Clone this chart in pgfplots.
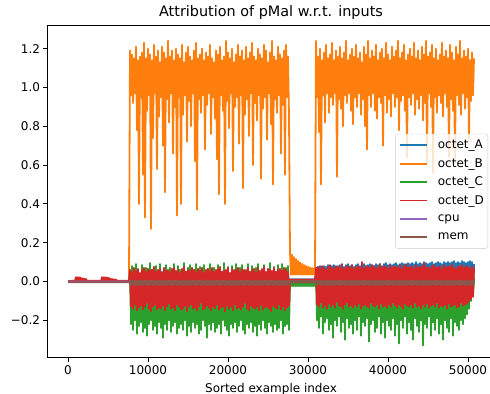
\documentclass[border=0pt]{standalone}
\usepackage{fontspec}
\setmainfont{DejaVu Sans}
\usepackage{pgfplots}
\usepackage{pgfplotstable}
\pgfplotsset{compat=1.18}

\definecolor{tabblue}{HTML}{1F77B4}
\definecolor{taborange}{HTML}{FF7F0E}
\definecolor{tabgreen}{HTML}{2CA02C}
\definecolor{tabred}{HTML}{D62728}
\definecolor{tabpurple}{HTML}{9467BD}
\definecolor{tabbrown}{HTML}{8C564B}

% Attribution per sorted example: octet_A, octet_B, octet_C, octet_D, mem
\pgfplotstableread{
x A B C D M
0 0 0 0 0.002 -0.004
875 0 0 0 0.004 -0.004
1000 0 0 0 0.022 -0.004
1125 0 0 0 0.0 -0.004
1250 0 0 0 0.022 -0.004
1375 0 0 0 0.0 -0.004
1500 0 0 0 0.021 -0.004
1625 0 0 0 0.0 -0.004
1750 0 0 0 0.017 -0.004
1875 0 0 0 0.0 -0.004
2000 0 0 0 0.015 -0.004
2125 0 0 0 0.0 -0.004
2250 0 0 0 0.013 -0.004
2375 0 0 0 0.0 -0.004
2450 0 0 0 0.004 -0.004
4150 0 0 0 0.004 -0.004
4250 0 0 0 0.022 -0.004
4375 0 0 0 0.0 -0.004
4500 0 0 0 0.022 -0.004
4625 0 0 0 0.0 -0.004
4750 0 0 0 0.021 -0.004
4875 0 0 0 0.0 -0.004
5000 0 0 0 0.02 -0.004
5125 0 0 0 0.0 -0.004
5250 0 0 0 0.016 -0.004
5375 0 0 0 0.0 -0.004
5500 0 0 0 0.013 -0.004
5625 0 0 0 0.0 -0.004
5750 0 0 0 0.011 -0.004
5875 0 0 0 0.0 -0.004
6000 0 0 0 0.01 -0.004
6125 0 0 0 0.0 -0.004
6200 0 0 0 0.003 -0.004
7625 0 0 0 0.003 -0.004
7750 0.04 1.19 0.05 0.06 0.005
7875 -0.08 0.96 -0.22 -0.13 -0.018
8000 0.05 1.17 0.08 0.05 0.002
8125 -0.06 0.92 -0.25 -0.14 -0.015
8250 0.03 1.15 0.04 0.07 0.006
8375 -0.09 0.97 -0.2 -0.12 -0.02
8500 0.04 1.21 0.09 0.055 0.003
8625 -0.08 0.78 -0.27 -0.15 -0.018
8750 0.05 1.14 0.06 0.065 0.005
8875 -0.06 0.40 -0.23 -0.135 -0.015
9000 0.03 1.16 0.03 0.045 0.002
9125 -0.09 0.95 -0.21 -0.125 -0.02
9250 0.04 1.18 0.085 0.06 0.006
9375 -0.08 0.55 -0.26 -0.145 -0.018
9500 0.05 1.23 0.05 0.07 0.003
9625 -0.06 0.33 -0.24 -0.13 -0.015
9750 0.03 1.15 0.07 0.05 0.005
9875 -0.09 0.88 -0.28 -0.11 -0.02
10000 0.04 1.20 0.04 0.065 0.002
10125 -0.08 0.96 -0.22 -0.14 -0.018
10250 0.05 1.17 0.095 0.055 0.006
10375 -0.06 0.27 -0.2 -0.155 -0.015
10500 0.03 1.14 0.06 0.06 0.003
10625 -0.09 0.74 -0.25 -0.13 -0.02
10750 0.04 1.22 0.035 0.075 0.005
10875 -0.08 0.97 -0.23 -0.12 -0.018
11000 0.05 1.16 0.08 0.05 0.002
11125 -0.06 0.58 -0.27 -0.145 -0.015
11250 0.03 1.19 0.05 0.06 0.006
11375 -0.09 0.85 -0.21 -0.135 -0.02
11500 0.04 1.13 0.09 0.065 0.003
11625 -0.08 0.95 -0.24 -0.14 -0.018
11750 0.05 1.21 0.04 0.045 0.005
11875 -0.06 0.70 -0.29 -0.125 -0.015
12000 0.03 1.18 0.065 0.07 0.002
12125 -0.09 0.46 -0.22 -0.15 -0.02
12250 0.04 1.15 0.085 0.055 0.006
12375 -0.08 0.94 -0.25 -0.13 -0.018
12500 0.05 1.24 0.03 0.06 0.003
12625 -0.06 0.82 -0.2 -0.115 -0.015
12750 0.03 1.16 0.07 0.05 0.005
12875 -0.09 0.97 -0.26 -0.14 -0.02
13000 0.04 1.19 0.05 0.065 0.002
13125 -0.08 0.66 -0.23 -0.135 -0.018
13250 0.05 1.14 0.09 0.07 0.006
13375 -0.06 0.90 -0.21 -0.15 -0.015
13500 0.03 1.20 0.04 0.055 0.003
13625 -0.09 0.34 -0.27 -0.12 -0.02
13750 0.04 1.17 0.08 0.06 0.005
13875 -0.08 0.95 -0.24 -0.13 -0.018
14000 0.05 1.15 0.06 0.045 0.002
14125 -0.06 0.40 -0.22 -0.145 -0.015
14250 0.03 1.22 0.035 0.065 0.006
14375 -0.09 0.86 -0.25 -0.14 -0.02
14500 0.04 1.13 0.095 0.075 0.003
14625 -0.08 0.96 -0.2 -0.125 -0.018
14750 0.05 1.18 0.05 0.05 0.005
14875 -0.06 0.72 -0.28 -0.155 -0.015
15000 0.03 1.21 0.07 0.06 0.002
15125 -0.09 0.93 -0.23 -0.13 -0.02
15250 0.04 1.16 0.085 0.055 0.006
15375 -0.08 0.80 -0.26 -0.12 -0.018
15500 0.05 1.14 0.04 0.07 0.003
15625 -0.06 0.97 -0.21 -0.14 -0.015
15750 0.03 1.19 0.06 0.06 0.005
15875 -0.09 0.62 -0.24 -0.135 -0.02
16000 0.04 1.23 0.09 0.05 0.002
16125 -0.08 0.37 -0.22 -0.15 -0.018
16250 0.05 1.15 0.03 0.065 0.006
16375 -0.06 0.94 -0.27 -0.13 -0.015
16500 0.03 1.17 0.075 0.055 0.003
16625 -0.09 0.87 -0.25 -0.11 -0.02
16750 0.04 1.20 0.05 0.07 0.005
16875 -0.08 0.96 -0.2 -0.145 -0.018
17000 0.05 1.14 0.085 0.045 0.002
17125 -0.06 0.68 -0.23 -0.14 -0.015
17250 0.03 1.18 0.04 0.06 0.006
17375 -0.09 0.91 -0.29 -0.125 -0.02
17500 0.04 1.16 0.065 0.065 0.003
17625 -0.08 0.97 -0.22 -0.135 -0.018
17750 0.05 1.22 0.09 0.055 0.005
17875 -0.06 0.76 -0.25 -0.15 -0.015
18000 0.03 1.15 0.05 0.07 0.002
18125 -0.09 0.95 -0.21 -0.13 -0.02
18250 0.04 1.13 0.07 0.05 0.006
18375 -0.08 0.84 -0.26 -0.14 -0.018
18500 0.05 1.19 0.035 0.06 0.003
18625 -0.06 0.63 -0.24 -0.12 -0.015
18750 0.03 1.17 0.085 0.065 0.005
18875 -0.09 0.45 -0.22 -0.145 -0.02
19000 0.04 1.21 0.06 0.075 0.002
19125 -0.08 0.96 -0.27 -0.135 -0.018
19250 0.05 1.14 0.04 0.05 0.006
19375 -0.06 0.88 -0.2 -0.13 -0.015
19500 0.03 1.16 0.095 0.055 0.003
19625 -0.09 0.40 -0.23 -0.155 -0.02
19750 0.04 1.24 0.05 0.06 0.005
19875 -0.08 0.93 -0.25 -0.125 -0.018
20000 0.05 1.18 0.075 0.07 0.002
20125 -0.06 0.79 -0.28 -0.14 -0.015
20250 0.03 1.15 0.03 0.045 0.006
20375 -0.09 0.97 -0.22 -0.13 -0.02
20500 0.04 1.20 0.08 0.065 0.003
20625 -0.08 0.57 -0.24 -0.15 -0.018
20750 0.05 1.13 0.06 0.055 0.005
20875 -0.06 0.90 -0.21 -0.12 -0.015
21000 0.03 1.17 0.09 0.06 0.002
21125 -0.09 0.95 -0.26 -0.14 -0.02
21250 0.04 1.22 0.045 0.07 0.006
21375 -0.08 0.71 -0.23 -0.135 -0.018
21500 0.05 1.16 0.07 0.05 0.003
21625 -0.06 0.96 -0.2 -0.145 -0.015
21750 0.03 1.19 0.085 0.065 0.005
21875 -0.09 0.48 -0.25 -0.13 -0.02
22000 0.04 1.14 0.04 0.06 0.002
22125 -0.08 0.86 -0.27 -0.11 -0.018
22250 0.05 1.21 0.06 0.055 0.006
22375 -0.06 0.94 -0.22 -0.14 -0.015
22500 0.03 1.15 0.09 0.07 0.003
22625 -0.09 0.75 -0.24 -0.15 -0.02
22750 0.04 1.18 0.05 0.05 0.005
22875 -0.08 0.97 -0.21 -0.125 -0.018
23000 0.05 1.23 0.08 0.06 0.002
23125 -0.06 0.60 -0.26 -0.135 -0.015
23250 0.03 1.16 0.035 0.065 0.006
23375 -0.09 0.92 -0.23 -0.14 -0.02
23500 0.04 1.14 0.07 0.045 0.003
23625 -0.08 0.83 -0.28 -0.13 -0.018
23750 0.05 1.20 0.09 0.07 0.005
23875 -0.06 0.96 -0.22 -0.15 -0.015
24000 0.03 1.17 0.045 0.055 0.002
24125 -0.09 0.53 -0.25 -0.12 -0.02
24250 0.04 1.15 0.065 0.06 0.006
24375 -0.08 0.89 -0.2 -0.145 -0.018
24500 0.05 1.22 0.085 0.075 0.003
24625 -0.06 0.95 -0.24 -0.135 -0.015
24750 0.03 1.19 0.04 0.05 0.005
24875 -0.09 0.73 -0.27 -0.13 -0.02
25000 0.04 1.13 0.06 0.065 0.002
25125 -0.08 0.97 -0.21 -0.14 -0.018
25250 0.05 1.18 0.095 0.06 0.006
25375 -0.06 0.81 -0.23 -0.155 -0.015
25500 0.03 1.24 0.05 0.055 0.003
25625 -0.09 0.50 -0.26 -0.125 -0.02
25750 0.04 1.16 0.075 0.07 0.005
25875 -0.08 0.94 -0.22 -0.135 -0.018
26000 0.05 1.14 0.035 0.05 0.002
26125 -0.06 0.87 -0.25 -0.14 -0.015
26250 0.03 1.21 0.085 0.06 0.006
26375 -0.09 0.96 -0.24 -0.12 -0.02
26500 0.04 1.17 0.06 0.065 0.003
26625 -0.08 0.66 -0.2 -0.145 -0.018
26750 0.05 1.15 0.09 0.055 0.005
26875 -0.06 0.91 -0.27 -0.13 -0.015
27000 0.03 1.19 0.045 0.07 0.002
27125 -0.09 0.55 -0.23 -0.15 -0.02
27250 0.04 1.22 0.07 0.06 0.006
27375 -0.08 0.95 -0.22 -0.135 -0.018
27500 0.05 1.16 0.08 0.05 0.003
27625 -0.06 0.85 -0.25 -0.125 -0.015
27750 0.012 0.152 -0.008 0.01 0.004
27875 0 0.035 -0.024 0 -0.006
28000 0.012 0.138 -0.008 0.01 0.004
28125 0 0.035 -0.024 0 -0.006
28250 0.012 0.126 -0.008 0.01 0.004
28375 0 0.035 -0.024 0 -0.006
28500 0.012 0.115 -0.008 0.01 0.004
28625 0 0.035 -0.024 0 -0.006
28750 0.012 0.106 -0.008 0.01 0.004
28875 0 0.035 -0.024 0 -0.006
29000 0.012 0.098 -0.008 0.01 0.004
29125 0 0.035 -0.024 0 -0.006
29250 0.012 0.091 -0.008 0.01 0.004
29375 0 0.035 -0.024 0 -0.006
29500 0.012 0.085 -0.008 0.01 0.004
29625 0 0.035 -0.024 0 -0.006
29750 0.012 0.080 -0.008 0.01 0.004
29875 0 0.035 -0.024 0 -0.006
30000 0.012 0.076 -0.008 0.01 0.004
30125 0 0.035 -0.024 0 -0.006
30250 0.012 0.072 -0.008 0.01 0.004
30375 0 0.035 -0.024 0 -0.006
30500 0.012 0.069 -0.008 0.01 0.004
30625 0 0.035 -0.024 0 -0.006
30750 0.012 0.067 -0.008 0.01 0.004
30875 0 0.035 -0.024 0 -0.006
31000 0.07 1.24 0.03 0.07 0.005
31125 -0.05 0.95 -0.2 -0.12 -0.018
31250 0.075 1.16 0.01 0.075 0.002
31375 -0.07 0.77 -0.24 -0.13 -0.015
31500 0.08 1.20 0.04 0.065 0.006
31625 -0.05 0.50 -0.18 -0.11 -0.02
31750 0.07 1.14 0.02 0.08 0.003
31875 -0.07 0.96 -0.27 -0.135 -0.018
32000 0.08 1.18 0.03 0.07 0.005
32125 -0.05 0.82 -0.21 -0.125 -0.015
32250 0.075 1.22 0.01 0.06 0.002
32375 -0.07 0.97 -0.19 -0.14 -0.02
32500 0.085 1.15 0.04 0.075 0.006
32625 -0.05 0.87 -0.25 -0.115 -0.018
32750 0.07 1.17 0.02 0.085 0.003
32875 -0.07 0.95 -0.22 -0.13 -0.015
33000 0.08 1.23 0.03 0.07 0.005
33125 -0.05 0.91 -0.29 -0.12 -0.02
33250 0.085 1.14 0.01 0.065 0.002
33375 -0.07 0.97 -0.2 -0.135 -0.018
33500 0.075 1.19 0.04 0.08 0.006
33625 -0.05 0.54 -0.23 -0.105 -0.015
33750 0.08 1.16 0.02 0.075 0.003
33875 -0.07 0.94 -0.18 -0.125 -0.02
34000 0.085 1.21 0.03 0.07 0.005
34125 -0.05 0.89 -0.26 -0.13 -0.018
34250 0.08 1.15 0.01 0.09 0.002
34375 -0.07 0.80 -0.21 -0.14 -0.015
34500 0.075 1.18 0.04 0.065 0.006
34625 -0.05 0.96 -0.3 -0.12 -0.02
34750 0.085 1.24 0.02 0.075 0.003
34875 -0.07 0.92 -0.19 -0.11 -0.018
35000 0.09 1.14 0.03 0.08 0.005
35125 -0.05 0.97 -0.24 -0.13 -0.015
35250 0.08 1.17 0.01 0.07 0.002
35375 -0.07 0.88 -0.22 -0.125 -0.02
35500 0.085 1.20 0.04 0.085 0.006
35625 -0.05 0.81 -0.27 -0.135 -0.018
35750 0.075 1.16 0.02 0.065 0.003
35875 -0.07 0.95 -0.2 -0.12 -0.015
36000 0.085 1.22 0.03 0.075 0.005
36125 -0.05 0.90 -0.25 -0.13 -0.02
36250 0.09 1.15 0.01 0.08 0.002
36375 -0.07 0.97 -0.18 -0.115 -0.018
36500 0.08 1.18 0.04 0.07 0.006
36625 -0.05 0.86 -0.28 -0.14 -0.015
36750 0.085 1.13 0.02 0.1 0.003
36875 -0.07 0.94 -0.21 -0.125 -0.02
37000 0.09 1.21 0.03 0.065 0.005
37125 -0.05 0.80 -0.23 -0.12 -0.018
37250 0.08 1.17 0.01 0.08 0.002
37375 -0.07 0.68 -0.19 -0.13 -0.015
37500 0.085 1.24 0.04 0.075 0.006
37625 -0.05 0.96 -0.31 -0.135 -0.02
37750 0.09 1.15 0.02 0.07 0.003
37875 -0.07 0.90 -0.22 -0.11 -0.018
38000 0.085 1.19 0.03 0.085 0.005
38125 -0.05 0.97 -0.2 -0.125 -0.015
38250 0.08 1.16 0.01 0.08 0.002
38375 -0.07 0.88 -0.26 -0.13 -0.02
38500 0.09 1.22 0.04 0.065 0.006
38625 -0.05 0.84 -0.24 -0.12 -0.018
38750 0.085 1.14 0.02 0.075 0.003
38875 -0.07 0.95 -0.18 -0.14 -0.015
39000 0.09 1.18 0.03 0.09 0.005
39125 -0.05 0.92 -0.27 -0.115 -0.02
39250 0.08 1.20 0.01 0.07 0.002
39375 -0.07 0.70 -0.21 -0.13 -0.018
39500 0.09 1.15 0.04 0.08 0.006
39625 -0.05 0.96 -0.29 -0.125 -0.015
39750 0.095 1.23 0.02 0.075 0.003
39875 -0.07 0.87 -0.2 -0.135 -0.02
40000 0.085 1.17 0.03 0.065 0.005
40125 -0.05 0.94 -0.23 -0.12 -0.018
40250 0.09 1.14 0.01 0.085 0.002
40375 -0.07 0.85 -0.25 -0.13 -0.015
40500 0.085 1.21 0.04 0.07 0.006
40625 -0.05 0.97 -0.19 -0.11 -0.02
40750 0.09 1.16 0.02 0.08 0.003
40875 -0.07 0.90 -0.28 -0.125 -0.018
41000 0.095 1.19 0.03 0.075 0.005
41125 -0.05 0.95 -0.22 -0.135 -0.015
41250 0.085 1.24 0.01 0.07 0.002
41375 -0.07 0.78 -0.32 -0.12 -0.02
41500 0.09 1.15 0.04 0.085 0.006
41625 -0.05 0.93 -0.2 -0.13 -0.018
41750 0.095 1.18 0.02 0.065 0.003
41875 -0.07 0.96 -0.24 -0.14 -0.015
42000 0.09 1.22 0.03 0.08 0.005
42125 -0.05 0.88 -0.18 -0.115 -0.02
42250 0.085 1.14 0.01 0.09 0.002
42375 -0.07 0.64 -0.27 -0.125 -0.018
42500 0.095 1.17 0.04 0.07 0.006
42625 -0.05 0.95 -0.21 -0.13 -0.015
42750 0.09 1.20 0.02 0.075 0.003
42875 -0.07 0.91 -0.25 -0.12 -0.02
43000 0.095 1.16 0.03 0.08 0.005
43125 -0.05 0.97 -0.3 -0.135 -0.018
43250 0.09 1.23 0.01 0.065 0.002
43375 -0.07 0.86 -0.19 -0.11 -0.015
43500 0.1 1.15 0.04 0.085 0.006
43625 -0.05 0.94 -0.23 -0.13 -0.02
43750 0.09 1.19 0.02 0.07 0.003
43875 -0.07 0.89 -0.26 -0.125 -0.018
44000 0.095 1.14 0.03 0.075 0.005
44125 -0.05 0.96 -0.2 -0.14 -0.015
44250 0.09 1.21 0.01 0.08 0.002
44375 -0.07 0.83 -0.33 -0.12 -0.02
44500 0.1 1.17 0.04 0.095 0.006
44625 -0.05 0.92 -0.22 -0.13 -0.018
44750 0.095 1.24 0.02 0.07 0.003
44875 -0.07 0.61 -0.24 -0.115 -0.015
45000 0.09 1.16 0.03 0.075 0.005
45125 -0.05 0.97 -0.18 -0.135 -0.02
45250 0.095 1.18 0.01 0.065 0.002
45375 -0.07 0.90 -0.28 -0.125 -0.018
45500 0.1 1.22 0.04 0.08 0.006
45625 -0.05 0.56 -0.21 -0.12 -0.015
45750 0.09 1.15 0.02 0.085 0.003
45875 -0.07 0.95 -0.25 -0.13 -0.02
46000 0.095 1.20 0.03 0.07 0.005
46125 -0.05 0.87 -0.19 -0.11 -0.018
46250 0.1 1.14 0.01 0.075 0.002
46375 -0.07 0.96 -0.27 -0.135 -0.015
46500 0.095 1.17 0.04 0.08 0.006
46625 -0.05 0.92 -0.22 -0.125 -0.02
46750 0.09 1.23 0.02 0.065 0.003
46875 -0.07 0.85 -0.3 -0.13 -0.018
47000 0.1 1.16 0.03 0.085 0.005
47125 -0.05 0.97 -0.2 -0.12 -0.015
47250 0.095 1.19 0.01 0.07 0.002
47375 -0.07 0.90 -0.24 -0.14 -0.02
47500 0.1 1.15 0.04 0.08 0.006
47625 -0.05 0.64 -0.26 -0.115 -0.018
47750 0.095 1.22 0.02 0.075 0.003
47875 -0.07 0.94 -0.19 -0.13 -0.015
48000 0.1 1.18 0.03 0.09 0.005
48125 -0.05 0.88 -0.28 -0.125 -0.02
48250 0.105 1.14 0.01 0.07 0.002
48375 -0.07 0.61 -0.21 -0.12 -0.018
48500 0.095 1.21 0.04 0.065 0.006
48625 -0.05 0.96 -0.23 -0.135 -0.015
48750 0.1 1.17 0.02 0.08 0.003
48875 -0.07 0.91 -0.25 -0.13 -0.02
49000 0.095 1.24 0.03 0.075 0.005
49125 -0.05 0.86 -0.2 -0.11 -0.018
49250 0.105 1.15 0.01 0.085 0.002
49375 -0.07 0.97 -0.22 -0.125 -0.015
49500 0.1 1.19 0.04 0.07 0.006
49625 -0.05 0.89 -0.19 -0.12 -0.02
49750 0.095 1.16 0.02 0.08 0.003
49875 -0.07 0.95 -0.17 -0.115 -0.018
50000 0.1 1.20 0.03 0.075 0.005
50125 -0.05 0.73 -0.14 -0.105 -0.015
50250 0.105 1.14 0.01 0.065 0.002
50375 -0.07 0.93 -0.1 -0.09 -0.02
50500 0.1 1.18 0.04 0.08 0.006
50625 -0.05 0.96 -0.07 -0.08 -0.018
50750 0.09 1.15 0.02 0.07 0.003
}\attrtable

\begin{document}
\begin{tikzpicture}
\begin{axis}[
  at={(0,0)}, anchor=south west,
  scale only axis, width=446.6bp, height=332.5bp,
  xmin=-2537.5, xmax=53287.5, ymin=-0.392, ymax=1.322,
  axis line style={black, line width=0.96bp},
  tick pos=left, tick align=outside,
  major tick length=4.2bp,
  every tick/.style={black, line width=0.96bp},
  xtick={0,10000,20000,30000,40000,50000},
  xticklabels={0,10000,20000,30000,40000,50000},
  ytick={-0.2,0,0.2,0.4,0.6,0.8,1.0,1.2},
  yticklabels={−0.2,0.0,0.2,0.4,0.6,0.8,1.0,1.2},
  scaled x ticks=false, scaled y ticks=false,
  tick label style={font=\fontsize{12bp}{14bp}\selectfont},
  title={Attribution of pMal w.r.t. inputs},
  title style={at={(axis description cs:0.5,1)}, anchor=base, yshift=2.5bp,
    font=\fontsize{14.4bp}{17bp}\selectfont},
  xlabel={Sorted example index},
  xlabel style={at={(axis description cs:0.5,0)}, anchor=base, yshift=-35bp,
    font=\fontsize{12bp}{14bp}\selectfont},
  legend cell align=left,
  legend style={at={(axis description cs:0.986,0.5)}, anchor=east,
    draw=black!20, fill=white, fill opacity=0.8,
    draw opacity=1, text opacity=1, rounded corners=2.4bp,
    inner xsep=4bp, inner ysep=2bp, row sep=0pt, column sep=10bp,
    font=\fontsize{12bp}{14bp}\selectfont,
    nodes={inner sep=0pt, minimum height=18.4bp}},
  legend image code/.code={\draw[#1, line width=1.8bp] (0bp,0bp) -- (26.7bp,0bp);},
  every axis plot/.append style={line width=1.8bp, line join=round, mark=none},
]
\addplot[tabblue] table[x=x, y=A] {\attrtable};
\addlegendentry{octet\_A}
\addplot[taborange] table[x=x, y=B] {\attrtable};
\addlegendentry{octet\_B}
\addplot[tabgreen] table[x=x, y=C] {\attrtable};
\addlegendentry{octet\_C}
\addplot[tabred] table[x=x, y=D] {\attrtable};
\addlegendentry{octet\_D}
\addplot[tabpurple] coordinates {(0,0) (7625,0) (7750,-0.005) (27625,-0.005)
  (27750,0) (30875,0) (31000,-0.005) (50750,-0.005)};
\addlegendentry{cpu}
\addplot[tabbrown] table[x=x, y=M] {\attrtable};
\addlegendentry{mem}
\end{axis}
\pgfresetboundingbox
\useasboundingbox (-47.7bp,-36.5bp) rectangle (442.3bp,357.5bp);
\end{tikzpicture}
\end{document}
